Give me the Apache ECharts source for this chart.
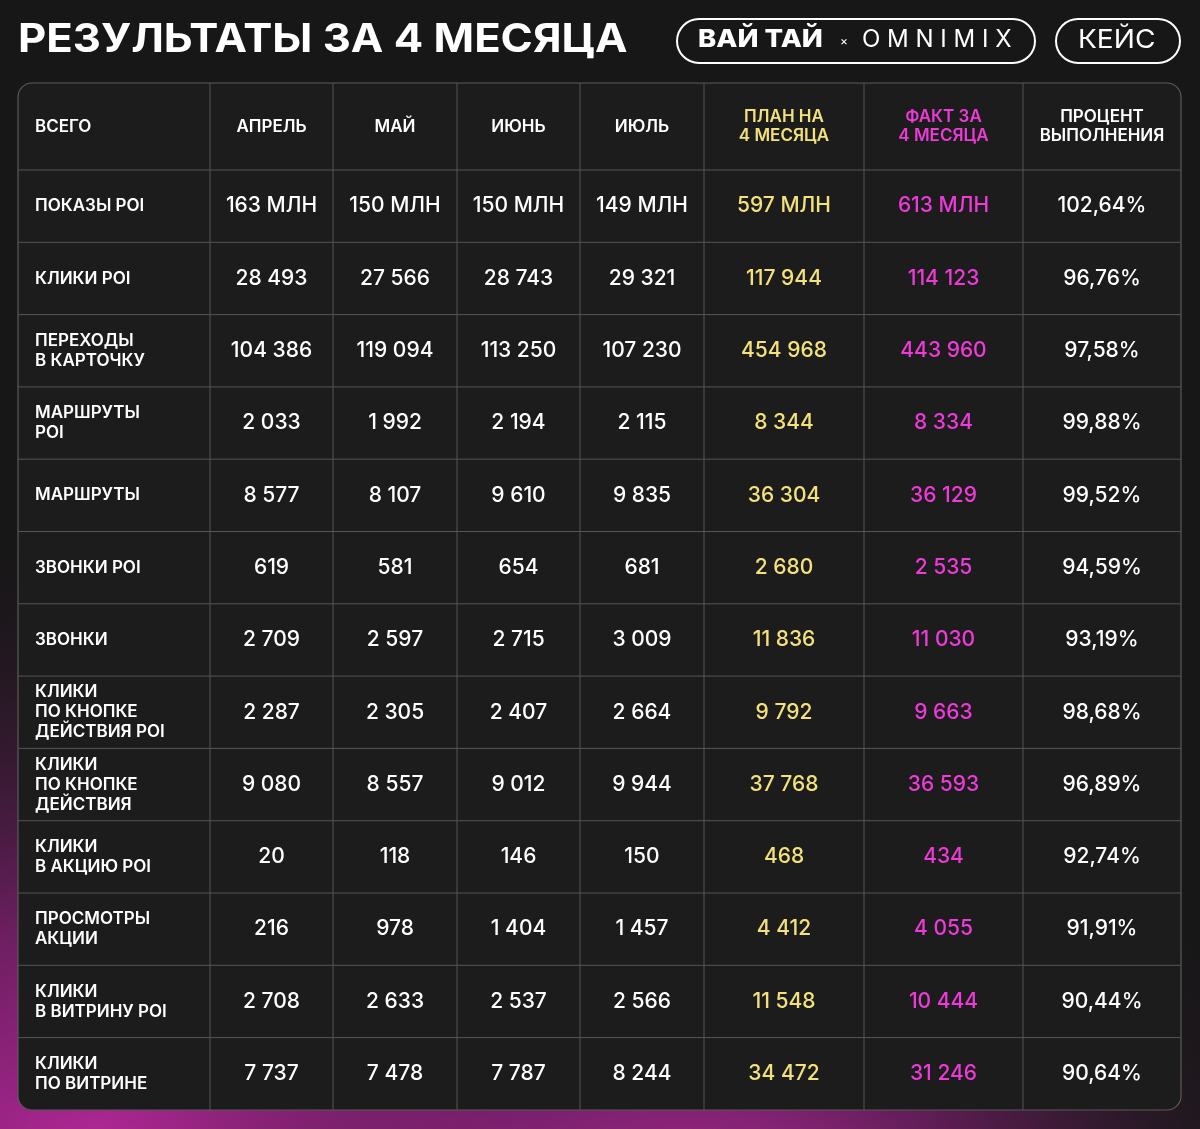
<!DOCTYPE html>
<html><head><meta charset="utf-8">
<script src="https://cdn.jsdelivr.net/npm/echarts@6/dist/echarts.min.js"></script>
<style>html,body{margin:0;padding:0;background:#171717}#c{width:1200px;height:1129px}</style>
</head><body><div id="c"></div>
<script>
const headers = ['ВСЕГО','АПРЕЛЬ','МАЙ','ИЮНЬ','ИЮЛЬ','ПЛАН НА\n4 МЕСЯЦА','ФАКТ ЗА\n4 МЕСЯЦА','ПРОЦЕНТ\nВЫПОЛНЕНИЯ'];
const metrics = ['ПОКАЗЫ POI','КЛИКИ POI','ПЕРЕХОДЫ\nВ КАРТОЧКУ','МАРШРУТЫ\nPOI','МАРШРУТЫ','ЗВОНКИ POI','ЗВОНКИ','КЛИКИ\nПО КНОПКЕ\nДЕЙСТВИЯ POI','КЛИКИ\nПО КНОПКЕ\nДЕЙСТВИЯ','КЛИКИ\nВ АКЦИЮ POI','ПРОСМОТРЫ\nАКЦИИ','КЛИКИ\nВ ВИТРИНУ POI','КЛИКИ\nПО ВИТРИНЕ'];
const april = ['163 МЛН','28 493','104 386','2 033','8 577','619','2 709','2 287','9 080','20','216','2 708','7 737'];
const may = ['150 МЛН','27 566','119 094','1 992','8 107','581','2 597','2 305','8 557','118','978','2 633','7 478'];
const june = ['150 МЛН','28 743','113 250','2 194','9 610','654','2 715','2 407','9 012','146','1 404','2 537','7 787'];
const july = ['149 МЛН','29 321','107 230','2 115','9 835','681','3 009','2 664','9 944','150','1 457','2 566','8 244'];
const plan = ['597 МЛН','117 944','454 968','8 344','36 304','2 680','11 836','9 792','37 768','468','4 412','11 548','34 472'];
const fact = ['613 МЛН','114 123','443 960','8 334','36 129','2 535','11 030','9 663','36 593','434','4 055','10 444','31 246'];
const percent = ['102,64%','96,76%','97,58%','99,88%','99,52%','94,59%','93,19%','98,68%','96,89%','92,74%','91,91%','90,44%','90,64%'];

const columns = [metrics, april, may, june, july, plan, fact, percent];
const colEdges = [0,192,315,439,562,686,846,1005,1163];
const headH = 87, rowH = 72.3;
const colColors = ['#ffffff','#ffffff','#ffffff','#ffffff','#ffffff','#f3e27c','#ee3ad8','#ffffff'];
const FONT = 'Inter, "Noto Sans", sans-serif';

const data = [];
for (let c = 0; c < columns.length; c++) {
  data.push([c, -1, headers[c]]);
  columns[c].forEach((v, r) => data.push([c, r, v]));
}

const chart = echarts.init(document.getElementById('c'));
chart.setOption({
  backgroundColor: '#171717',
  animation: false,
  graphic: [
    {type:'circle', shape:{cx:120, cy:1250, r:750}, z:-10, silent:true,
     style:{fill:new echarts.graphic.RadialGradient(0.5,0.5,0.5,[{offset:0,color:'rgba(215,45,180,1)'},{offset:0.45,color:'rgba(165,35,145,0.6)'},{offset:1,color:'rgba(23,23,23,0)'}])}},
    {type:'circle', shape:{cx:720, cy:1320, r:650}, z:-10, silent:true,
     style:{fill:new echarts.graphic.RadialGradient(0.5,0.5,0.5,[{offset:0,color:'rgba(230,55,200,1)'},{offset:0.45,color:'rgba(165,35,145,0.5)'},{offset:1,color:'rgba(23,23,23,0)'}])}},
    {type:'rect', shape:{x:18, y:83, width:1163, height:1027, r:14}, z:-5, silent:true,
     style:{fill:'#1c1c1c', stroke:'#5a5a5a', lineWidth:1.2}},
    {type:'text', x:18, y:20, scaleX:1.09, z:5, style:{text:'РЕЗУЛЬТАТЫ ЗА 4 МЕСЯЦА', fill:'#fff', font:'700 40px '+FONT}},
    {type:'rect', shape:{x:677, y:19, width:358, height:44, r:22}, z:5, style:{fill:'none', stroke:'#fff', lineWidth:2}},
    {type:'text', x:698, y:27, scaleX:1.1, z:5, style:{text:'ВАЙ ТАЙ', fill:'#fff', font:'800 25px '+FONT}},
    {type:'text', left:840, top:35, z:5, style:{text:'×', fill:'#fff', font:'400 12px '+FONT}},
    {type:'text', left:862, top:28, z:5, style:{text:'O M N I M I X', fill:'#fff', font:'400 24px '+FONT}},
    {type:'rect', shape:{x:1056, y:19, width:124, height:44, r:22}, z:5, style:{fill:'none', stroke:'#fff', lineWidth:2}},
    {type:'text', x:1078, y:27, scaleX:1.08, z:5, style:{text:'КЕЙС', fill:'#fff', font:'400 26px '+FONT}}
  ],
  grid: {left:18, top:83, width:1163, height:1027},
  xAxis: {type:'value', min:0, max:1163, show:false},
  yAxis: {type:'value', min:0, max:1027, inverse:true, show:false},
  series: [{
    type:'custom',
    data: data,
    renderItem: function(params, api) {
      const c = api.value(0), r = api.value(1);
      const txt = data[params.dataIndex][2];
      const y0 = r < 0 ? 0 : headH + r*rowH;
      const y1 = r < 0 ? headH : headH + (r+1)*rowH;
      const p0 = api.coord([colEdges[c], y0]);
      const p1 = api.coord([colEdges[c+1], y1]);
      const children = [];
      if (c > 0) children.push({type:'line', shape:{x1:p0[0],y1:p0[1],x2:p0[0],y2:p1[1]}, style:{stroke:'#555',lineWidth:1}});
      if (r < metrics.length-1) children.push({type:'line', shape:{x1:p0[0],y1:p1[1],x2:p1[0],y2:p1[1]}, style:{stroke:'#555',lineWidth:1}});
      const isHead = r < 0;
      const left = c === 0;
      const color = colColors[c];
      const font = (isHead || left) ? '600 17px '+FONT : '500 21px '+FONT;
      children.push({type:'text', style:{
        text: txt, x: left ? p0[0]+17 : (p0[0]+p1[0])/2, y:(p0[1]+p1[1])/2,
        align: left ? 'left' : 'center', verticalAlign:'middle',
        fill: color, font: font, lineHeight: isHead ? 19 : 20
      }});
      return {type:'group', children};
    }
  }]
});
</script></body></html>
